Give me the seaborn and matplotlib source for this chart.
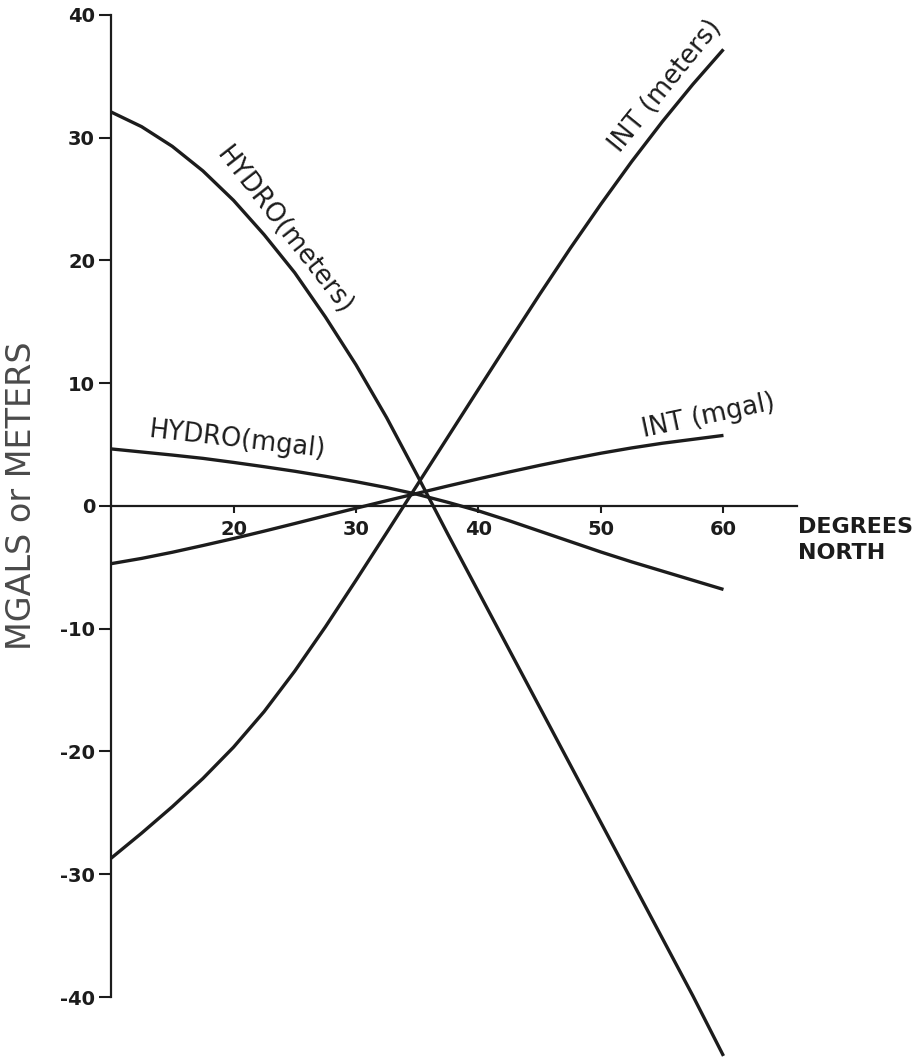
import matplotlib
matplotlib.use("Agg")
import matplotlib.pyplot as plt
import seaborn as sns

# ---- data (degrees north vs value) ----
lat = [10, 12.5, 15, 17.5, 20, 22.5, 25, 27.5, 30, 32.5, 35,
       37.5, 40, 42.5, 45, 47.5, 50, 52.5, 55, 57.5, 60]

hydro_m = [32.1, 30.9, 29.3, 27.3, 24.9, 22.1, 19.0, 15.4, 11.5, 7.2, 2.5,
           -2.3, -7.0, -11.7, -16.4, -21.1, -25.8, -30.5, -35.2, -39.9, -44.8]

int_m = [-28.7, -26.65, -24.5, -22.2, -19.65, -16.75, -13.45, -9.85, -6.05, -2.18, 1.72,
         5.62, 9.52, 13.4, 17.25, 21.0, 24.6, 28.05, 31.3, 34.35, 37.2]

hydro_mgal = [4.65, 4.4, 4.15, 3.88, 3.55, 3.2, 2.83, 2.42, 1.98, 1.5, 0.95,
              0.3, -0.4, -1.2, -2.05, -2.9, -3.75, -4.55, -5.3, -6.05, -6.8]

int_mgal = [-4.7, -4.27, -3.77, -3.22, -2.65, -2.05, -1.43, -0.8, -0.18, 0.43, 1.03,
            1.63, 2.21, 2.77, 3.31, 3.82, 4.3, 4.73, 5.11, 5.43, 5.75]

x_ticks = [20, 30, 40, 50, 60]
x_tick_labels = ["20", "30", "40", "50", "60"]
y_ticks = [40, 30, 20, 10, 0, -10, -20, -30, -40]
y_tick_labels = ["40", "30", "20", "10", "0", "-10", "-20", "-30", "-40"]

curve_labels = ["HYDRO(meters)", "HYDRO(mgal)", "INT (meters)", "INT (mgal)"]
label_pos = [(24.1, 22.4, -52), (20.3, 5.4, -6.5), (55.3, 34.2, 51), (58.8, 7.3, 12)]

# ---- plotting ----
sns.set_style("ticks")
plt.rcParams['font.family'] = ['DejaVu Sans']

ink = '#1c1c1c'
fig = plt.figure(figsize=(9.22, 10.62), dpi=100)
ax = fig.add_axes([0.1204, 0.0612, 0.744, 0.9247])

for ys in [hydro_m, int_m, hydro_mgal, int_mgal]:
    sns.lineplot(x=lat, y=ys, ax=ax, color=ink, linewidth=2.4,
                 clip_on=False, solid_capstyle='butt', solid_joinstyle='round')

ax.set_xlim(10, 66)
ax.set_ylim(-40, 40)

for s in ['top', 'right']:
    ax.spines[s].set_visible(False)
ax.spines['bottom'].set_position(('data', 0))
ax.spines['bottom'].set_bounds(10, 66)
ax.spines['left'].set_bounds(-40, 40)
for s in ['bottom', 'left']:
    ax.spines[s].set_linewidth(1.6)
    ax.spines[s].set_color(ink)

ax.set_xticks(x_ticks)
ax.set_xticklabels(x_tick_labels, fontsize=14, fontweight='bold', color=ink)
ax.set_yticks(y_ticks)
ax.set_yticklabels(y_tick_labels, fontsize=14, fontweight='bold', color=ink)
ax.tick_params(axis='y', direction='out', length=8.5, width=1.5, pad=3, color=ink)
ax.tick_params(axis='x', direction='out', length=5, width=1.5, pad=5, color=ink)
ax.set_xlabel("")
ax.set_ylabel("")

for txt, (x, y, r) in zip(curve_labels, label_pos):
    ax.text(x, y, txt, rotation=r, rotation_mode='anchor', ha='center', va='center',
            fontsize=18.5, color=ink)

fig.text(798 / 922, 1 - 540 / 1062, "DEGREES\nNORTH", ha='left', va='center',
         fontsize=16, fontweight='bold', color=ink, linespacing=1.35)
fig.text(22 / 922, 0.533, "MGALS or METERS", rotation=90, ha='center', va='center',
         fontsize=24, color='#4a4a4a')

fig.savefig("out.png", dpi=100)
